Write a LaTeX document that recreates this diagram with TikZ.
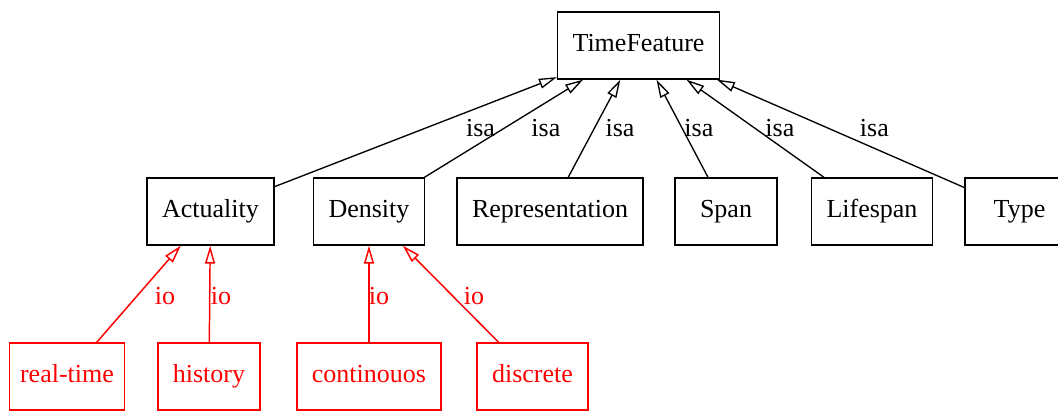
\documentclass[tikz,border=0pt]{standalone}
\usepackage{fontspec}
\setmainfont{Liberation Serif}
\usetikzlibrary{arrows.meta}

\begin{document}
\begin{tikzpicture}[x=0.75pt,y=-0.75pt,font=\fontsize{19.5}{23}\selectfont,
    box/.style={draw,line width=1pt,minimum width=76.5pt,minimum height=50.25pt,inner xsep=11.25pt,
      text height=13.3pt,text depth=4.3pt},
    redbox/.style={box,red,line width=1.1pt},
    isa/.style={line width=1pt,-{Triangle[open,length=13.5pt,width=7.5pt]}},
    io/.style={isa,red,line width=1.1pt},
    lbl/.style={inner sep=0pt}]
    \useasboundingbox (0,0) rectangle (1058,411);
    \node[box] (tf) at (638.5,45.5) {TimeFeature};

    \node[box] (act) at (210.5,211.5) {Actuality};
    \node[box] (dens) at (369,211.5) {Density};
    \node[box] (repr) at (550,211.5) {Representation};
    \node[box] (span) at (726,211.5) {Span};
    \node[box] (life) at (872,211.5) {Lifespan};
    \node[box,minimum width=81.75pt] (type) at (1019.5,211.5) {Type};

    \node[redbox,inner xsep=8pt] (realtime) at (67,376.5) {real-time};
    \node[redbox] (hist) at (209,376.5) {history};
    \node[redbox] (cont) at (369,376.5) {continouos};
    \node[redbox] (discr) at (532.5,376.5) {discrete};

    \draw[isa] (act) -- (tf) node[lbl,pos=.534,xshift=41.4pt] {isa};
    \draw[isa] (dens) -- (tf) node[lbl,pos=.505,xshift=31pt] {isa};
    \draw[isa] (repr) -- (tf) node[lbl,pos=.505,xshift=19.1pt] {isa};
    \draw[isa] (span) -- (tf) node[lbl,pos=.505,xshift=12.7pt] {isa};
    \draw[isa] (life) -- (tf) node[lbl,pos=.505,xshift=19pt] {isa};
    \draw[isa] (type) -- (tf) node[lbl,pos=.55,xshift=34.6pt] {isa};

    \draw[io] (realtime) -- (act) node[lbl,pos=.48,xshift=21pt] {io};
    \draw[io] (hist) -- (act) node[lbl,pos=.48,xshift=8.4pt] {io};
    \draw[io] (cont) -- (dens) node[lbl,pos=.48,xshift=7.5pt] {io};
    \draw[io] (discr) -- (dens) node[lbl,pos=.48,xshift=16pt] {io};
\end{tikzpicture}
\end{document}
